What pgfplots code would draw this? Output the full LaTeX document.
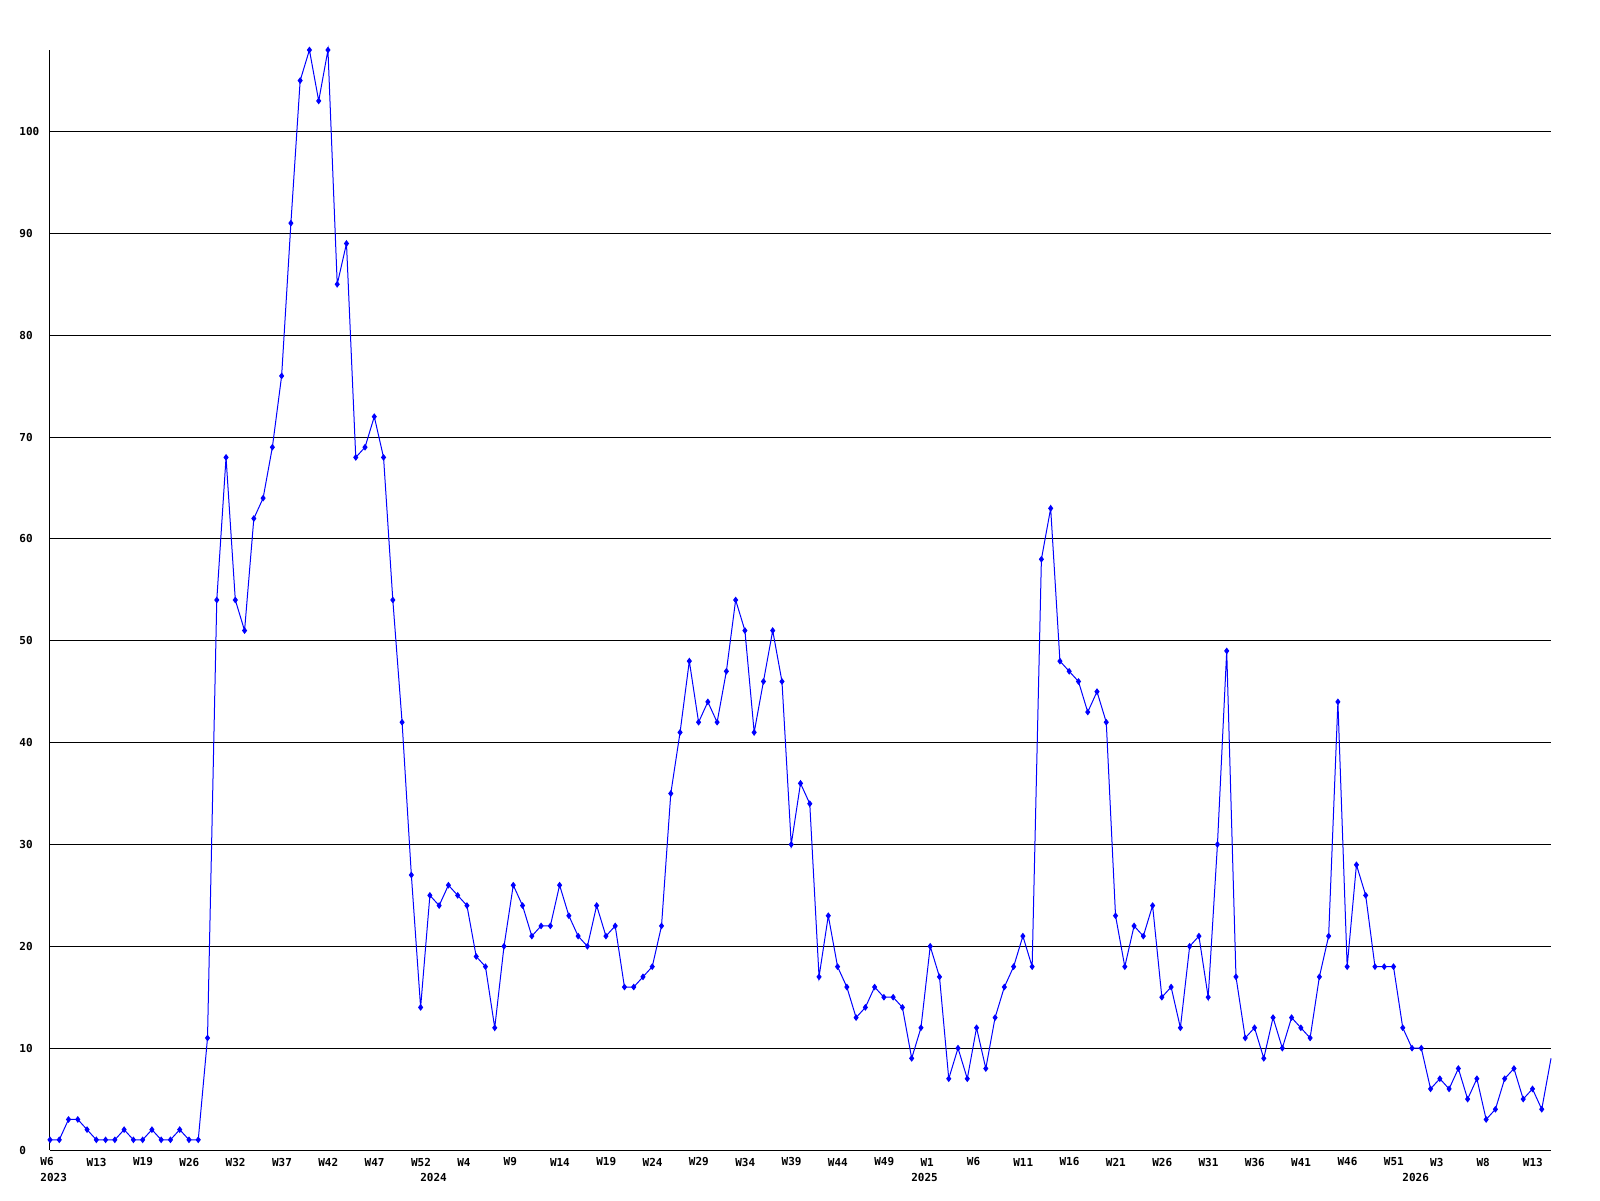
\documentclass[border=0pt]{standalone}
\usepackage{fontspec}
\setmainfont{DejaVu Sans Mono}
\usepackage{pgfplots}
\pgfplotsset{compat=1.18}
\begin{document}
\begin{tikzpicture}
\begin{axis}[
  name=ax,
  at={(0,0)}, anchor=south west,
  scale only axis,
  width=750.5pt, height=550pt,
  xmin=0, xmax=162, ymin=0, ymax=108,
  axis x line=bottom, axis y line=left,
  axis line style={-, black, line width=0.5pt},
  major tick length=0pt,
  ytick={0,10,...,100},
  ymajorgrids,
  grid style={black, line width=0.5pt},
  /pgf/number format/assume math mode=true,
  ticklabel style={font=\fontsize{5.5}{6}\selectfont\bfseries, inner sep=0pt},
  yticklabel style={anchor=west, xshift=-15.5pt},
  xtick={0,5,...,160},
  xticklabels={W6,W13,W19,W26,W32,W37,W42,W47,W52,W4,W9,W14,W19,W24,W29,W34,W39,W44,W49,W1,W6,W11,W16,W21,W26,W31,W36,W41,W46,W51,W3,W8,W13},
  xticklabel style={anchor=west, xshift=-5pt, yshift=-6pt},
  extra x ticks={0,41,94,147},
  extra x tick labels={2023,2024,2025,2026},
  extra x tick style={xticklabel style={yshift=-7.75pt}},
  clip=false,
]
\addplot[color=blue, line width=0.5pt, mark=diamond*, mark size=1.3pt, mark options={fill=blue, solid}, mark indices={1,...,162}] coordinates {
(0,1)(1,1)(2,3)(3,3)(4,2)(5,1)(6,1)(7,1)(8,2)(9,1)(10,1)(11,2)(12,1)(13,1)(14,2)(15,1)(16,1)
(17,11)(18,54)(19,68)(20,54)(21,51)(22,62)(23,64)(24,69)(25,76)(26,91)(27,105)(28,108)(29,103)(30,108)(31,85)(32,89)(33,68)(34,69)(35,72)(36,68)(37,54)(38,42)(39,27)
(40,14)(41,25)(42,24)(43,26)(44,25)(45,24)(46,19)(47,18)(48,12)(49,20)(50,26)(51,24)(52,21)(53,22)(54,22)(55,26)(56,23)(57,21)(58,20)(59,24)(60,21)(61,22)(62,16)(63,16)(64,17)(65,18)(66,22)
(67,35)(68,41)(69,48)(70,42)(71,44)(72,42)(73,47)(74,54)(75,51)(76,41)(77,46)(78,51)(79,46)(80,30)(81,36)(82,34)
(83,17)(84,23)(85,18)(86,16)(87,13)(88,14)(89,16)(90,15)(91,15)(92,14)(93,9)(94,12)(95,20)(96,17)(97,7)(98,10)(99,7)(100,12)(101,8)(102,13)(103,16)(104,18)(105,21)(106,18)
(107,58)(108,63)(109,48)(110,47)(111,46)(112,43)(113,45)(114,42)(115,23)(116,18)(117,22)(118,21)(119,24)(120,15)(121,16)(122,12)(123,20)(124,21)(125,15)
(126,30)(127,49)(128,17)(129,11)(130,12)(131,9)(132,13)(133,10)(134,13)(135,12)(136,11)(137,17)(138,21)(139,44)(140,18)(141,28)(142,25)(143,18)(144,18)(145,18)(146,12)(147,10)(148,10)(149,6)(150,7)(151,6)(152,8)(153,5)(154,7)(155,3)(156,4)(157,7)(158,8)(159,5)(160,6)(161,4)(162,9)
};
\end{axis}
\pgfresetboundingbox
\path[use as bounding box] ([shift={(-25pt,-25pt)}]ax.south west) rectangle ([shift={(24.5pt,25pt)}]ax.north east);
\end{tikzpicture}
\end{document}
